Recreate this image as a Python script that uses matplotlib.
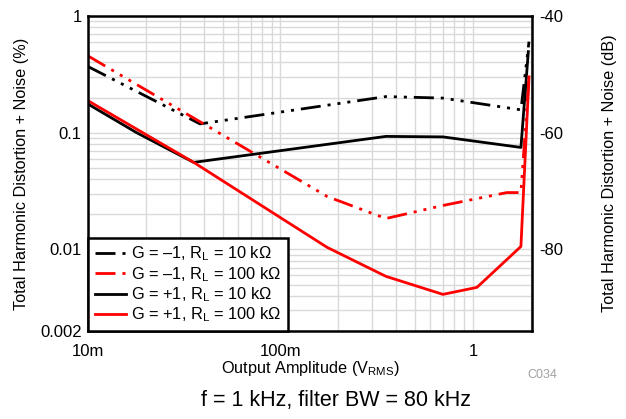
import numpy as np
import matplotlib.pyplot as plt
from matplotlib.ticker import FixedLocator, NullFormatter, LogLocator

plt.rcParams['font.family'] = ['Liberation Sans', 'DejaVu Sans']
plt.rcParams['mathtext.fontset'] = 'custom'
plt.rcParams['mathtext.rm'] = 'Liberation Sans'

# data (Vrms, THD+N %)
x_gm1_10k = [0.01, 0.0382, 0.353, 0.698, 1.775, 1.955]
y_gm1_10k = [0.369, 0.119, 0.204, 0.198, 0.157, 0.603]

x_gm1_100k = [0.01, 0.175, 0.353, 0.698, 1.50, 1.775, 1.955]
y_gm1_100k = [0.455, 0.0284, 0.0184, 0.0238, 0.0307, 0.0307, 0.301]

x_gp1_10k = [0.01, 0.0179, 0.0354, 0.353, 0.698, 1.775, 1.94]
y_gp1_10k = [0.176, 0.100, 0.0557, 0.093, 0.0921, 0.0748, 0.495]

x_gp1_100k = [0.01, 0.0356, 0.175, 0.353, 0.698, 1.049, 1.775, 1.955]
y_gp1_100k = [0.188, 0.0554, 0.0104, 0.00588, 0.00412, 0.00473, 0.0106, 0.301]

labels = ['G = \u20131, R$_{\\mathrm{L}}$ = 10 k\u03a9',
          'G = \u20131, R$_{\\mathrm{L}}$ = 100 k\u03a9',
          'G = +1, R$_{\\mathrm{L}}$ = 10 k\u03a9',
          'G = +1, R$_{\\mathrm{L}}$ = 100 k\u03a9']

fig = plt.figure(figsize=(6.26, 4.19), dpi=100)
ax = fig.add_axes([0.1406, 0.21, 0.7088, 0.7518])

dd = (7.2, 2.5, 1.1, 2.5, 1.1, 2.5, 1.1, 2.5)
ax.plot(x_gm1_10k, y_gm1_10k, color='k', lw=2, dashes=dd, label=labels[0])
ax.plot(x_gm1_100k, y_gm1_100k, color='#ff0000', lw=2, dashes=dd, label=labels[1])
ax.plot(x_gp1_10k, y_gp1_10k, color='k', lw=2, label=labels[2])
ax.plot(x_gp1_100k, y_gp1_100k, color='#ff0000', lw=2, label=labels[3])

ax.set_xscale('log')
ax.set_yscale('log')
ax.set_xlim(0.01, 2.02)
ax.set_ylim(0.002, 1)

ax.xaxis.set_major_locator(FixedLocator([0.01, 0.1, 1]))
ax.set_xticklabels(['10m', '100m', '1'])
ax.xaxis.set_minor_locator(LogLocator(base=10, subs=np.arange(2, 10), numticks=20))
ax.xaxis.set_minor_formatter(NullFormatter())
ax.yaxis.set_major_locator(FixedLocator([0.002, 0.01, 0.1, 1]))
ax.set_yticklabels(['0.002', '0.01', '0.1', '1'])
ax.yaxis.set_minor_locator(LogLocator(base=10, subs=np.arange(2, 10), numticks=20))
ax.yaxis.set_minor_formatter(NullFormatter())

ax.grid(True, which='both', color='#d9d9d9', lw=1)
ax.set_axisbelow(True)
ax.tick_params(which='both', length=0, labelsize=12)
ax.tick_params(axis='x', pad=9)
ax.tick_params(axis='y', pad=4.5)
for s in ax.spines.values():
    s.set_linewidth(1.8)

ax.set_xlabel('Output Amplitude (V$_{\\mathrm{RMS}}$)', fontsize=11.7, labelpad=0)
ax.set_ylabel('Total Harmonic Distortion + Noise (%)', fontsize=11.7, labelpad=8)

ax2 = ax.twinx()
ax2.set_ylim(-40 + 20 * np.log10(0.002), -40)
ax2.set_yticks([-40, -60, -80])
ax2.set_yticklabels(['-40', '-60', '-80'])
ax2.tick_params(length=0, labelsize=12, pad=5.5)
ax2.set_ylabel('Total Harmonic Distortion + Noise (dB)', fontsize=11.7, labelpad=28)
for s in ax2.spines.values():
    s.set_visible(False)

leg = ax.legend(loc='lower left', borderaxespad=0, fancybox=False, fontsize=11.8,
                handlelength=1.9, labelspacing=0.1, handletextpad=0.3,
                borderpad=0.4, framealpha=1)
leg.get_frame().set_edgecolor('k')
leg.get_frame().set_linewidth(1.8)

fig.text(0.843, 0.098, 'C034', fontsize=9, color='#a0a0a0')
fig.text(0.537, 0.045, 'f = 1 kHz, filter BW = 80 kHz', fontsize=15.5,
         ha='center', va='center')

fig.savefig('out.png', dpi=100)
